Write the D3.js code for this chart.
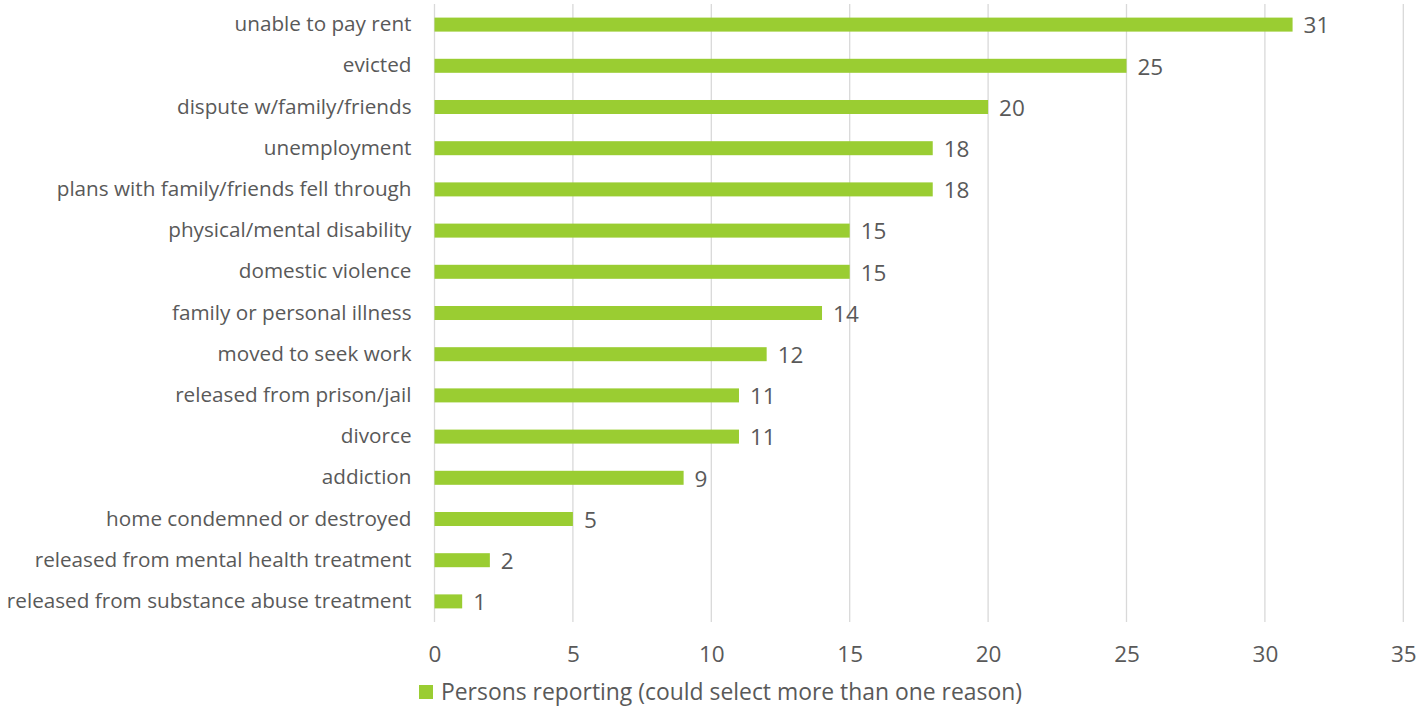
<!DOCTYPE html>
<html>
<head>
<meta charset="utf-8">
<script src="https://cdn.jsdelivr.net/npm/d3@7"></script>
<style>
  html, body { margin: 0; padding: 0; background: #fff; }
  svg { display: block; }
  text { font-family: "Open Sans", "Noto Sans", sans-serif; fill: #595959; }
</style>
</head>
<body>
<svg id="chart" width="1418" height="709"></svg>
<script>
// Reasons for homelessness, top to bottom
const categories = [
  "unable to pay rent",
  "evicted",
  "dispute w/family/friends",
  "unemployment",
  "plans with family/friends fell through",
  "physical/mental disability",
  "domestic violence",
  "family or personal illness",
  "moved to seek work",
  "released from prison/jail",
  "divorce",
  "addiction",
  "home condemned or destroyed",
  "released from mental health treatment",
  "released from substance abuse treatment"
];
const persons = [31, 25, 20, 18, 18, 15, 15, 14, 12, 11, 11, 9, 5, 2, 1];
const xTicks = [0, 5, 10, 15, 20, 25, 30, 35];
const seriesName = "Persons reporting (could select more than one reason)";

const svg = d3.select("#chart");
const plotLeft = 434.5, plotRight = 1403.3, plotTop = 4, plotBottom = 622;
const barColor = "#9ACD32";
const gridColor = "#D9D9D9";
const labelSize = 20.7;
const numberSize = 22.5;
const legendSize = 22.9;

const x = d3.scaleLinear().domain([0, 35]).range([plotLeft, plotRight]);
const y = d3.scaleBand().domain(categories).range([plotTop, plotBottom]).paddingInner(0.66).paddingOuter(0.33);

// vertical gridlines
svg.append("g").selectAll("line").data(xTicks).join("line")
  .attr("x1", d => x(d)).attr("x2", d => x(d))
  .attr("y1", plotTop).attr("y2", plotBottom)
  .attr("stroke", gridColor).attr("stroke-width", 1.3);

// bars
svg.append("g").selectAll("rect").data(persons).join("rect")
  .attr("x", x(0))
  .attr("y", (d, i) => y(categories[i]))
  .attr("width", d => x(d) - x(0))
  .attr("height", y.bandwidth())
  .attr("fill", barColor);

// value labels
svg.append("g").selectAll("text").data(persons).join("text")
  .attr("x", d => x(d) + 11)
  .attr("y", (d, i) => y(categories[i]) + y.bandwidth() / 2 + 1)
  .attr("dy", "0.35em")
  .attr("font-size", numberSize)
  .text(d => d);

// category axis
const yAxis = svg.append("g")
  .attr("transform", `translate(${plotLeft},0)`)
  .call(d3.axisLeft(y).tickSize(0).tickPadding(23));
yAxis.select(".domain").remove();
yAxis.selectAll("text")
  .attr("font-size", labelSize)
  .attr("font-family", null)
  .attr("fill", null);

// value axis
const xAxis = svg.append("g")
  .attr("transform", `translate(0,${plotBottom})`)
  .call(d3.axisBottom(x).tickValues(xTicks).tickSize(0).tickPadding(24));
xAxis.select(".domain").remove();
xAxis.selectAll("text")
  .attr("font-size", numberSize)
  .attr("font-family", null)
  .attr("fill", null);

// legend
const legend = svg.append("g").attr("transform", "translate(419,692)");
legend.append("rect").attr("x", 0).attr("y", -7).attr("width", 14).attr("height", 14).attr("fill", barColor);
legend.append("text").attr("x", 22).attr("dy", "0.35em").attr("font-size", legendSize).text(seriesName);
</script>
</body>
</html>
